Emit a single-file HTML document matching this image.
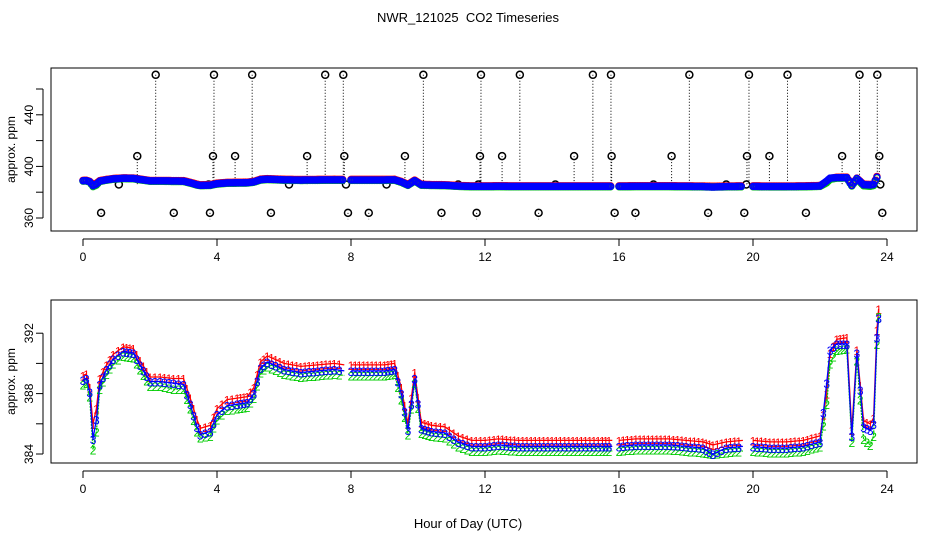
<!DOCTYPE html>
<html><head><meta charset="utf-8"><style>
body{margin:0;background:#fff}
svg{display:block;font-family:"Liberation Sans",sans-serif}
</style></head><body>
<svg id="chart" width="936" height="540" viewBox="0 0 936 540" xmlns="http://www.w3.org/2000/svg">
<rect width="936" height="540" fill="#fff"/>
<text x="468" y="22" text-anchor="middle" font-size="13" style="white-space:pre">NWR_121025  CO2 Timeseries</text>
<text x="468" y="528" text-anchor="middle" font-size="13">Hour of Day (UTC)</text>
<g id="topPanel"></g>
<g id="botPanel"></g>
</svg>
<script>
const hours=[0,0.1,0.2,0.3,0.4,0.5,0.7,0.9,1.2,1.5,1.7,2.0,2.3,2.7,3.0,3.2,3.4,3.5,3.8,4.0,4.3,4.6,4.9,5.1,5.3,5.5,6.0,6.5,7.0,7.5,7.8,null,8.0,8.5,9.0,9.3,9.5,9.7,9.9,10.1,10.4,10.8,11.2,11.6,12.0,12.4,13.0,13.5,14.0,14.5,15.0,15.5,15.8,null,16.0,16.5,17.0,17.5,18.0,18.5,18.8,19.2,19.7,null,20.0,20.5,21.0,21.5,22.0,22.2,22.3,22.5,22.8,22.95,23.1,23.3,23.5,23.6,23.7,23.75];
const series1=[389.2,389.3,388.4,386.0,387.0,389.0,389.9,390.6,391.1,391.0,390.2,389.1,389.1,389.0,389.0,387.7,386.3,385.7,385.9,387.0,387.6,387.7,387.8,388.4,390.1,390.5,390.0,389.8,389.9,390.0,389.9,null,389.9,389.9,389.9,390.0,388.4,386.0,389.4,386.1,385.9,385.8,385.2,384.9,384.9,385.0,384.9,384.9,384.9,384.9,384.9,384.9,384.9,null,384.9,385.0,385.0,385.0,384.9,384.8,384.6,384.8,384.9,null,384.9,384.8,384.8,384.9,385.2,388.0,390.7,391.6,391.7,385.6,390.9,386.2,386.0,386.4,392.2,393.6];
const series2=[388.6,388.7,387.8,384.3,385.5,388.3,389.3,390.0,390.5,390.4,389.6,388.5,388.5,388.3,388.3,387.0,385.5,385.1,385.2,386.3,386.9,387.0,387.1,387.7,389.4,389.8,389.3,389.1,389.2,389.3,389.2,null,389.2,389.2,389.2,389.3,387.6,385.3,388.7,385.4,385.2,385.1,384.5,384.2,384.2,384.3,384.2,384.2,384.2,384.2,384.2,384.2,384.2,null,384.2,384.3,384.3,384.3,384.2,384.1,384.0,384.1,384.2,null,384.2,384.1,384.1,384.2,384.5,387.3,390.0,390.9,391.0,384.8,390.2,385.0,384.6,385.2,391.3,393.1];
const series3=[388.9,389.0,388.1,385.0,386.3,388.6,389.6,390.3,390.8,390.7,389.9,388.8,388.8,388.7,388.6,387.3,385.8,385.3,385.5,386.6,387.2,387.3,387.4,388.0,389.7,390.1,389.6,389.4,389.5,389.6,389.5,null,389.5,389.5,389.5,389.6,388.0,385.6,389.0,385.7,385.5,385.4,384.8,384.5,384.5,384.6,384.5,384.5,384.5,384.5,384.5,384.5,384.5,null,384.5,384.6,384.6,384.6,384.5,384.4,384.0,384.4,384.5,null,384.5,384.4,384.4,384.5,384.8,388.7,390.9,391.3,391.3,385.2,390.7,385.8,385.6,386.0,391.7,393.0];
const hiHours=[2.17,3.91,5.05,7.23,7.77,10.16,11.88,13.04,15.22,15.76,18.1,19.88,21.03,23.18,23.71];
const midHours=[1.62,3.88,4.54,6.69,7.8,9.61,11.85,12.51,14.66,15.78,17.57,19.82,20.49,22.66,23.77];
const lowHours=[0.54,2.71,3.79,5.61,7.91,8.53,10.7,11.75,13.6,15.87,16.49,18.66,19.74,21.58,23.86];
const nearHours=[1.07,3.75,6.15,7.85,9.06,11.2,11.8,14.1,17.03,19.2,19.8,23.8];
const hiVal=471, midVal=408, lowVal=364, nearVal=386;
const xTicks=[0,4,8,12,16,20,24];
const topYTicks=[360,380,400,420,440,460];
const topYLabels=[360,400,440];
const botYTicks=[384,386,388,390,392];
const botYLabels=[392,388,384];

const NS="http://www.w3.org/2000/svg";
function mk(p,tag,a){const e=document.createElementNS(NS,tag);for(const k in a)e.setAttribute(k,a[k]);p.appendChild(e);return e;}
const X=h=>83+h*33.5;
const Yt=v=>218-(v-360)*1.29;
const Yb=v=>454-(v-384)*15.1;
const topG=document.getElementById('topPanel'), botG=document.getElementById('botPanel');

function frame(g,y0,y1,Y,ticks,labels,nm){
  const b=mk(g,'rect',{x:51,y:y0,width:866,height:y1-y0,fill:'none',stroke:'#000','stroke-width':1});
  
  
  mk(g,'line',{x1:X(0),x2:X(24),y1:y1+8,y2:y1+8,stroke:'#000'});
  xTicks.forEach(t=>{
    mk(g,'line',{x1:X(t),x2:X(t),y1:y1+8,y2:y1+15,stroke:'#000'});
    const tx=mk(g,'text',{x:X(t),y:y1+30,'text-anchor':'middle','font-size':12});
    tx.textContent=t;
    
    
  });
  mk(g,'line',{x1:43,x2:43,y1:Y(ticks[0]),y2:Y(ticks[ticks.length-1]),stroke:'#000'});
  ticks.forEach(t=>mk(g,'line',{x1:36,x2:43,y1:Y(t),y2:Y(t),stroke:'#000'}));
  labels.forEach(t=>{
    const tx=mk(g,'text',{x:33,y:Y(t),'text-anchor':'middle','font-size':12,transform:`rotate(-90 33 ${Y(t)})`});
    tx.textContent=t;
    
    
  });
  const yl=mk(g,'text',{x:15,y:(y0+y1)/2,'text-anchor':'middle','font-size':12,transform:`rotate(-90 15 ${(y0+y1)/2})`});
  yl.textContent='approx. ppm';
  
  
}
frame(topG,68,231,Yt,topYTicks,topYLabels,'top');
frame(botG,300,463,Yb,botYTicks,botYLabels,'bottom');

function outliers(list,val,nm){
  list.forEach(h=>{
    mk(topG,'line',{x1:X(h),x2:X(h),y1:Yt(val),y2:Yt(val<nearVal?val-5:nearVal),stroke:'#000','stroke-dasharray':'1,2'});
    const c=mk(topG,'circle',{cx:X(h),cy:Yt(val),r:3.5,fill:'none',stroke:'#000','stroke-width':1.5});
    
    
  });
}
outliers(hiHours,hiVal,'high-outlier-point');
outliers(midHours,midVal,'mid-outlier-point');
outliers(lowHours,lowVal,'low-outlier-point');
outliers(nearHours,nearVal,'near-outlier-point');
[[series1,'#f00'],[series2,'#0c0'],[series3,'#00f']].forEach(([s,col])=>{
  for(let i=0;i<hours.length-1;i++){
    if(hours[i]==null||hours[i+1]==null)continue;
    const n=Math.max(1,Math.round((hours[i+1]-hours[i])/0.05));
    for(let k=0;k<n;k++){
      const f=k/n,h=hours[i]+f*(hours[i+1]-hours[i]),v=s[i]+f*(s[i+1]-s[i]);
      mk(topG,'circle',{cx:X(h),cy:Yt(v),r:3,fill:'none',stroke:col,'stroke-width':1.5});
    }
  }
});

[[series1,'#f00','1'],[series2,'#0c0','2'],[series3,'#00f','3']].forEach(([s,col,ch])=>{
  let d='',pen=false;
  hours.forEach((h,i)=>{
    if(h==null||s[i]==null){pen=false;return;}
    d+=(pen?'L':'M')+X(h).toFixed(1)+','+Yb(s[i]).toFixed(1);pen=true;
  });
  const p=mk(botG,'path',{d:d,fill:'none',stroke:col,'stroke-width':1.3,'stroke-dasharray':ch=='2'?'2,1':'none'});
  
  
  for(let i=0;i<hours.length-1;i++){
    if(hours[i]==null||hours[i+1]==null)continue;
    const n=Math.max(1,Math.round((hours[i+1]-hours[i])/0.12));
    for(let k=0;k<n;k++){
      const f=k/n,h=hours[i]+f*(hours[i+1]-hours[i]),v=s[i]+f*(s[i+1]-s[i]);
      const t=mk(botG,'text',{x:X(h),y:Yb(v)+5,'text-anchor':'middle','font-size':12,fill:col});
      t.textContent=ch;
    }
  }
  const last=hours.length-1;
  const t=mk(botG,'text',{x:X(hours[last]),y:Yb(s[last])+5,'text-anchor':'middle','font-size':12,fill:col});
  t.textContent=ch;
  
  
});
</script>
</body></html>
